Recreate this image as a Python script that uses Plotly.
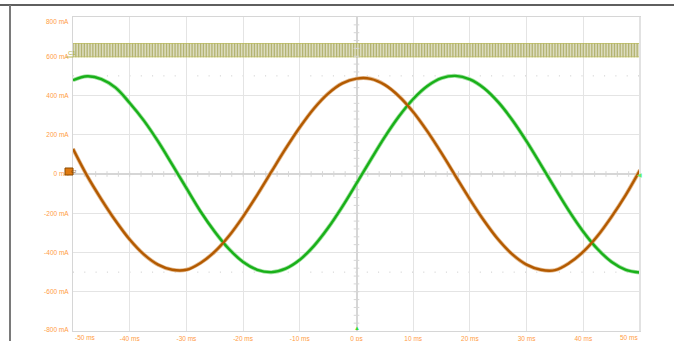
import numpy as np
import plotly.graph_objects as go

# ---------------- data ----------------
time_ms = [-50, -47.5, -45, -42.5, -40, -37.5, -35, -32.5, -30, -27.5, -25, -22.5, -20,
           -17.5, -15, -12.5, -10, -7.5, -5, -2.5, 0, 2.5, 5, 7.5, 10, 12.5, 15, 17.5,
           20, 22.5, 25, 27.5, 30, 32.5, 35, 37.5, 40, 42.5, 45, 47.5, 50]

green_mA = [478, 498, 484, 440, 362, 272, 166, 48, -72, -191, -294, -382, -448,
            -488, -500, -482, -437, -366, -274, -166, -48, 72, 189, 294, 382, 448, 488, 500,
            482, 437, 366, 274, 166, 48, -72, -189, -294, -382, -448, -488, -502]

brown_mA = [128, -10, -129, -238, -334, -410, -462, -488, -488, -453, -396, -316, -217,
            -106, 12, 129, 238, 334, 410, 462, 486, 485, 454, 396, 316, 217, 106, -12,
            -129, -238, -334, -410, -462, -488, -490, -454, -396, -316, -217, -106, 20]

# fast square-wave channel (C1): levels and period
c1_low_mA = 597
c1_high_mA = 665
c1_period_ms = 0.5

x_tick_vals = [-40, -30, -20, -10, 0, 10, 20, 30, 40]
x_tick_text = ["-40 ms", "-30 ms", "-20 ms", "-10 ms", "0 ps", "10 ms", "20 ms", "30 ms", "40 ms"]
y_tick_vals = [-600, -400, -200, 0, 200, 400, 600]
y_tick_text = ["-600 mA", "-400 mA", "-200 mA", "0 mA", "200 mA", "400 mA", "600 mA"]

# ---------------- layout constants ----------------
W, H = 674, 341
PL, PR, PT, PB = 73, 640, 17, 331
LABEL = "#ff9c45"
FONT = "Liberation Sans, Arial, sans-serif"


def pxx(px):
    return (px - PL) / (PR - PL)


def pxy(py):
    return (PB - py) / (PB - PT)


fig = go.Figure()

# C1 band
stripe_t = np.arange(-50, 50 + 1e-9, c1_period_ms)
fig.add_trace(go.Scatter(x=[-50, 50], y=[c1_low_mA, c1_low_mA], mode="lines",
                         line=dict(color="#c8c86a", width=1), hoverinfo="skip", showlegend=False))
fig.add_trace(go.Scatter(x=[-50, 50], y=[c1_high_mA, c1_high_mA], mode="lines", fill="tonexty",
                         fillcolor="#dcdcbf", line=dict(color="#c8c86a", width=1),
                         hoverinfo="skip", showlegend=False))
sx, sy = [], []
for t in stripe_t:
    sx += [t, t, None]
    sy += [c1_low_mA - 2, c1_high_mA + 2, None]
fig.add_trace(go.Scatter(x=sx, y=sy, mode="lines", line=dict(color="#b3b372", width=1.3),
                         hoverinfo="skip", showlegend=False))

# reference dotted lines at +-500 mA
for lvl in (500, -500):
    fig.add_shape(type="line", xref="x", yref="y", x0=-50, x1=50, y0=lvl, y1=lvl,
                  line=dict(color="#c9c9c9", width=1, dash="1px,10.3px"), layer="below")

# center-axis minor ticks
mt_x = np.arange(-48, 49, 2)
fig.add_trace(go.Scatter(x=mt_x, y=np.zeros_like(mt_x), mode="markers",
                         marker=dict(symbol="line-ns", size=4, line=dict(color="#d6d6d6", width=1)),
                         hoverinfo="skip", showlegend=False))
mt_y = np.arange(-760, 761, 40)
fig.add_trace(go.Scatter(x=np.zeros_like(mt_y), y=mt_y, mode="markers",
                         marker=dict(symbol="line-ew", size=4, line=dict(color="#d6d6d6", width=1)),
                         hoverinfo="skip", showlegend=False))

# sine channels
fig.add_trace(go.Scatter(x=time_ms, y=green_mA, mode="lines", line=dict(color="#9ee09e", width=4, shape="spline"),
                         hoverinfo="skip", showlegend=False))
fig.add_trace(go.Scatter(x=time_ms, y=brown_mA, mode="lines", line=dict(color="#e4bb90", width=4, shape="spline"),
                         hoverinfo="skip", showlegend=False))
fig.add_trace(go.Scatter(x=time_ms, y=green_mA, mode="lines", line=dict(color="#19b019", width=2.4, shape="spline"),
                         name="Ch green", showlegend=False))
fig.add_trace(go.Scatter(x=time_ms, y=brown_mA, mode="lines", line=dict(color="#b35a00", width=2.4, shape="spline"),
                         name="Ch brown", showlegend=False))

axis_common = dict(showgrid=True, gridcolor="#e4e4e4", gridwidth=1,
                   zeroline=True, zerolinecolor="#d6d6d6", zerolinewidth=2,
                   showline=True, mirror=True, linecolor="#d6d6d6", linewidth=1,
                   ticks="", tickfont=dict(family=FONT, size=6.5, color=LABEL))

fig.update_layout(
    width=W, height=H,
    margin=dict(l=PL, r=W - PR, t=PT, b=H - PB, autoexpand=False),
    paper_bgcolor="white", plot_bgcolor="white",
    xaxis=dict(range=[-50, 50], tickvals=x_tick_vals, ticktext=x_tick_text,
               ticklabelstandoff=1, **axis_common),
    yaxis=dict(range=[-800, 800], tickvals=y_tick_vals, ticktext=y_tick_text,
               ticklabelstandoff=2, **axis_common),
    showlegend=False,
)

annos = [
    dict(text="-50 ms", x=0, y=pxy(337.5), xanchor="left"),
    dict(text="50 ms", x=1, y=pxy(337.5), xanchor="right"),
    dict(text="800 mA", x=pxx(71), y=pxy(21), xanchor="right"),
    dict(text="-800 mA", x=pxx(71), y=pxy(329), xanchor="right"),
]
for a in annos:
    fig.add_annotation(xref="paper", yref="paper", showarrow=False, yanchor="middle",
                       font=dict(family=FONT, size=6.5, color=LABEL), **a)

# C1 marker
fig.add_annotation(xref="paper", yref="paper", x=pxx(66), y=pxy(53), text="C1", showarrow=False,
                   xanchor="left", yanchor="middle", font=dict(family=FONT, size=6, color="#b0b040"))
fig.add_shape(type="line", xref="paper", yref="paper", x0=pxx(66), x1=pxx(73), y0=pxy(57), y1=pxy(57),
              line=dict(color="#b8b850", width=1))
# channel-2 box at 0 mA
fig.add_shape(type="rect", xref="paper", yref="paper", x0=pxx(65), x1=pxx(73), y0=pxy(175), y1=pxy(168),
              fillcolor="#e07a10", line=dict(color="#8a4a00", width=1))
fig.add_annotation(xref="paper", yref="paper", x=pxx(69), y=pxy(171.5), text="C2", showarrow=False,
                   font=dict(family=FONT, size=4, color="#5a2e00"))
# trigger markers
fig.add_annotation(xref="paper", yref="paper", x=pxx(357), y=pxy(334), text="▲", showarrow=False,
                   font=dict(size=6, color="#33dd33"))
fig.add_annotation(xref="paper", yref="paper", x=pxx(644), y=pxy(174.5), text="◀", showarrow=False,
                   font=dict(size=6, color="#66ee66"))

# right border emphasis
fig.add_shape(type="line", xref="paper", yref="paper", x0=1, x1=1, y0=0, y1=1,
              line=dict(color="#e2e2e2", width=2))
# application frame lines
fig.add_shape(type="line", xref="paper", yref="paper", x0=pxx(0), x1=pxx(674), y0=pxy(5), y1=pxy(5),
              line=dict(color="#2a2a2a", width=1.5))
fig.add_shape(type="line", xref="paper", yref="paper", x0=pxx(10), x1=pxx(10), y0=pxy(5), y1=pxy(341),
              line=dict(color="#7a7a7a", width=2))

fig.write_html("out.html", config={"displayModeBar": False},
               post_script="document.body.style.margin='0';document.body.style.padding='0';"
                           "document.body.style.overflow='hidden';")
